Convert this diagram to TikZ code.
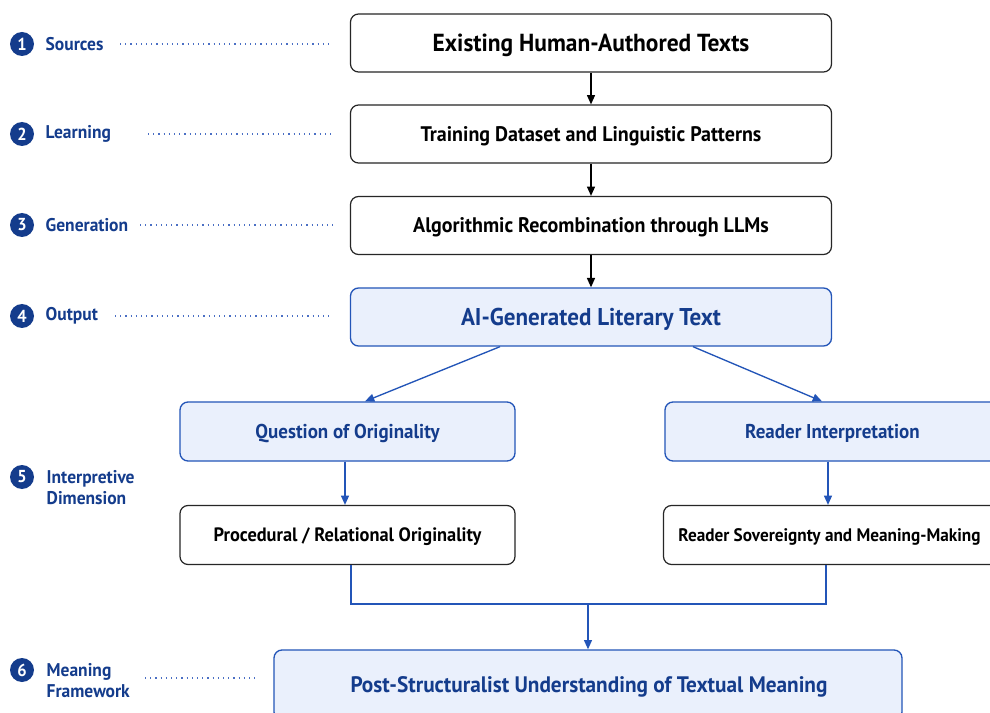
\documentclass[tikz,border=0pt]{standalone}
\usepackage{fontspec}
\setmainfont{PT Sans}[FakeStretch=0.95]
\usetikzlibrary{arrows.meta}
\definecolor{navy}{HTML}{143C8C}
\definecolor{bblue}{HTML}{2355B8}
\definecolor{lfill}{HTML}{EAF0FC}
\definecolor{dotc}{HTML}{4A6FC4}
\tikzset{
  x=0.75pt, y=-0.75pt,
  plainbox/.style={draw=black!85, line width=0.9pt, fill=white, rounded corners=6pt, font=\bfseries\fontsize{14.5}{16}\selectfont, text=black!90},
  bluebox/.style={draw=bblue, line width=1pt, fill=lfill, rounded corners=6pt, text=navy, font=\bfseries\fontsize{15}{17}\selectfont},
  wide/.style={minimum width=360.75pt, minimum height=43.5pt},
  half/.style={minimum width=251.25pt, minimum height=44.25pt},
  numc/.style={circle, fill=navy, text=white, inner sep=0pt, minimum size=18pt, font=\bfseries\fontsize{13}{13}\selectfont},
  lab/.style={anchor=west, text=navy, font=\bfseries\fontsize{13.8}{15.5}\selectfont, align=left},
  dotl/.style={draw=dotc, line width=0.9pt, dash pattern=on 0.9pt off 3pt},
  blk/.style={-{Triangle[length=7pt,width=6pt]}, draw=black, line width=1pt},
  blu/.style={-{Triangle[length=7pt,width=6pt]}, draw=bblue, fill=bblue, line width=1pt},
  bline/.style={draw=bblue, line width=1pt},
  txt/.style={yshift=-1.5pt}
}
\begin{document}
\begin{tikzpicture}
\useasboundingbox[fill=white] (0,0) rectangle (990,713);
% main boxes
\node[plainbox, wide] (b1) at (591,43) {};
\node[txt, font=\bfseries\fontsize{18.5}{20}\selectfont] (b1t) at (b1) {Existing Human-Authored Texts};
\node[plainbox, wide] (b2) at (591,134) {};
\node[txt, font=\bfseries\fontsize{15.8}{18}\selectfont] (b2t) at (b2) {Training Dataset and Linguistic Patterns};
\node[plainbox, wide] (b3) at (591,225.5) {};
\node[txt, font=\bfseries\fontsize{15.8}{18}\selectfont] (b3t) at (b3) {Algorithmic Recombination through LLMs};
\node[bluebox, wide] (b4) at (591,317) {};
\node[txt, text=navy, font=\bfseries\fontsize{18.2}{20}\selectfont] (b4t) at (b4) {AI-Generated Literary Text};
\node[bluebox, half] (q) at (347.5,431.5) {};
\node[txt, text=navy, font=\bfseries\fontsize{15}{17}\selectfont] (qt) at (q) {Question of Originality};
\node[bluebox, half] (r) at (832.5,431.5) {};
\node[txt, text=navy, font=\bfseries\fontsize{15}{17}\selectfont] (rt) at (r) {Reader Interpretation};
\node[plainbox, half] (p) at (347.5,535) {};
\node[txt, font=\bfseries\fontsize{14.5}{16}\selectfont] (pt) at (p) {Procedural / Relational Originality};
\node[plainbox, half] (s) at (831,535) {};
\node[txt, font=\bfseries\fontsize{13.6}{16}\selectfont] (st) at (829.5,535) {Reader Sovereignty and Meaning-Making};
\node[bluebox, minimum width=471pt, minimum height=52.5pt] (f) at (588,685) {};
\node[txt, text=navy, font=\bfseries\fontsize{16.8}{19}\selectfont] (ft) at (589,685) {Post-Structuralist Understanding of Textual Meaning};
% arrows
\draw[blk] (b1) -- (b2);
\draw[blk] (b2) -- (b3);
\draw[blk] (b3) -- (b4);
\draw[blu] (b4.south -| 500,0) -- (q.north -| 365,0);
\draw[blu] (b4.south -| 693,0) -- (r.north -| 822,0);
\draw[blu] (q.south -| 345,0) -- (p.north -| 345,0);
\draw[blu] (r.south -| 828,0) -- (s.north -| 828,0);
\coordinate (j) at (588,604);
\draw[bline] (p.south -| 351,0) |- (j) -| (s.south -| 826,0);
\draw[blu] (j) -- (f.north);
% left labels
\node[numc] (n1) at (22,44) {1};
\node[lab] (l1) at (41,44) {Sources};
\node[numc] (n2) at (22,134) {2};
\node[lab] (l2) at (41,134) {Learning};
\node[numc] (n3) at (22,225) {3};
\node[lab] (l3) at (41,225) {Generation};
\node[numc] (n4) at (22,316) {4};
\node[lab] (l4) at (41,316) {Output};
\node[numc] (n5) at (22,477) {5};
\node[lab, anchor=north west] (l5) at (42,466) {Interpretive\\Dimension};
\node[numc] (n6) at (22,670) {6};
\node[lab, anchor=north west] (l6) at (42,659) {Meaning\\Framework};
\coordinate (d1) at (120,44);
\coordinate (d2) at (148,134);
\coordinate (d3) at (140,225);
\coordinate (d4) at (115,316);
\coordinate (d6) at (145,678);
\coordinate (e1) at (333,44);
\coordinate (e2) at (333,134);
\coordinate (e3) at (333,225);
\coordinate (e4) at (333,316);
\coordinate (e6) at (258,678);
\draw[dotl] (d1) -- (e1);
\draw[dotl] (d2) -- (e2);
\draw[dotl] (d3) -- (e3);
\draw[dotl] (d4) -- (e4);
\draw[dotl] (d6) -- (e6);
\end{tikzpicture}
\end{document}
